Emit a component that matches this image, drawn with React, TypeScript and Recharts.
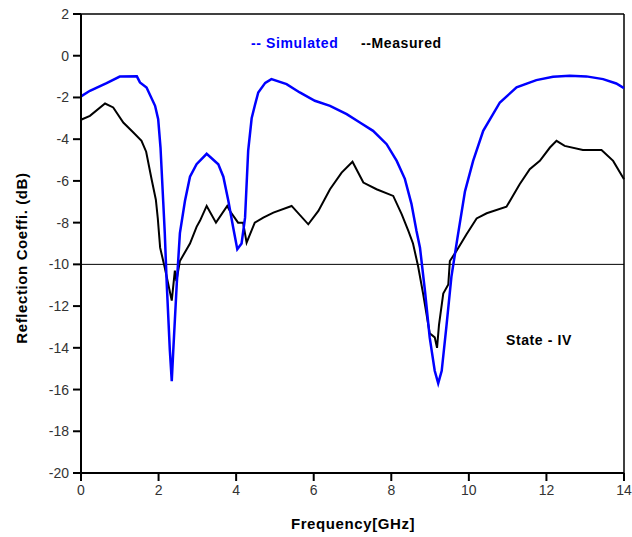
import React from 'react';
import {
  LineChart,
  Line,
  XAxis,
  YAxis,
  ReferenceLine,
  Customized,
} from 'recharts';

// Simulated reflection coefficient (frequency in GHz, value in dB)
const simFreq = [0, 0.23, 0.66, 1.0, 1.44, 1.52, 1.69, 1.91, 1.99, 2.05, 2.12, 2.16, 2.21, 2.29, 2.34, 2.38, 2.47, 2.55, 2.68, 2.81, 2.98, 3.24, 3.54, 3.67, 3.8, 3.92, 4.03, 4.14, 4.23, 4.31, 4.4, 4.48, 4.57, 4.75, 4.91, 5.3, 5.64, 6.03, 6.42, 6.85, 7.19, 7.53, 7.88, 8.14, 8.35, 8.52, 8.65, 8.74, 8.87, 8.99, 9.12, 9.21, 9.3, 9.42, 9.55, 9.7, 9.9, 10.11, 10.37, 10.8, 11.23, 11.74, 12.17, 12.6, 13.03, 13.46, 13.8, 14];
const simDb = [-1.95, -1.68, -1.31, -1.0, -0.99, -1.28, -1.52, -2.4, -3.04, -4.4, -7.0, -8.5, -10.9, -14.1, -15.6, -14.1, -10.9, -8.5, -6.96, -5.8, -5.2, -4.7, -5.2, -5.8, -6.96, -8.2, -9.27, -9.0, -7.76, -4.56, -3.0, -2.4, -1.76, -1.3, -1.12, -1.36, -1.76, -2.16, -2.4, -2.8, -3.2, -3.6, -4.24, -5.04, -5.9, -7.1, -8.4, -9.2, -11.3, -13.5, -15.1, -15.7, -15.1, -13.0, -10.6, -8.8, -6.5, -5.04, -3.6, -2.24, -1.52, -1.17, -1.01, -0.96, -0.99, -1.12, -1.33, -1.55];

// Measured reflection coefficient
const measFreq = [0, 0.23, 0.62, 0.83, 1.09, 1.35, 1.56, 1.68, 1.82, 1.93, 1.98, 2.04, 2.16, 2.29, 2.34, 2.42, 2.46, 2.55, 2.81, 2.98, 3.07, 3.24, 3.48, 3.77, 3.84, 4.05, 4.18, 4.27, 4.48, 4.7, 4.96, 5.43, 5.86, 6.12, 6.42, 6.72, 7.0, 7.28, 7.62, 8.05, 8.27, 8.44, 8.56, 8.69, 8.82, 8.99, 9.12, 9.18, 9.23, 9.34, 9.47, 9.51, 9.68, 9.94, 10.2, 10.46, 10.97, 11.31, 11.57, 11.83, 12.09, 12.26, 12.47, 12.94, 13.42, 13.72, 14];
const measDb = [-3.07, -2.88, -2.29, -2.48, -3.2, -3.68, -4.08, -4.6, -5.92, -6.9, -7.8, -9.2, -10.16, -11.3, -11.74, -10.3, -10.8, -9.84, -9.0, -8.2, -7.9, -7.2, -8.0, -7.2, -7.44, -8.0, -8.0, -8.96, -8.0, -7.76, -7.52, -7.2, -8.08, -7.44, -6.4, -5.6, -5.08, -6.08, -6.4, -6.72, -7.6, -8.4, -9.0, -10.08, -11.4, -13.3, -13.5, -14.0, -12.9, -11.4, -10.96, -9.84, -9.36, -8.56, -7.8, -7.55, -7.24, -6.16, -5.44, -5.04, -4.4, -4.08, -4.32, -4.52, -4.52, -5.04, -5.92];

const xTicks = [0, 2, 4, 6, 8, 10, 12, 14];
const yTicks = [-20, -18, -16, -14, -12, -10, -8, -6, -4, -2, 0, 2];

const simulated = simFreq.map((f, i) => ({ f, db: simDb[i] }));
const measured = measFreq.map((f, i) => ({ f, db: measDb[i] }));

const tickFont = {
  fontFamily: '"Liberation Sans Narrow", "Liberation Sans", Arial, sans-serif',
  fontSize: 14,
  fill: '#333',
};

const boldFont = 'Arial, "Liberation Sans", sans-serif';

const Annotations = () => (
  <g fontFamily={boldFont} fontWeight="bold" fontSize={14} letterSpacing={0.6}>
    <text x={251} y={48} fill="#0000ff">-- Simulated</text>
    <text x={361} y={48} fill="#000">--Measured</text>
    <text x={506} y={345} fill="#000">State - IV</text>
    <text x={353} y={529} fill="#000" textAnchor="middle" fontSize={15}>Frequency[GHz]</text>
    <text
      x={27}
      y={258}
      fill="#000"
      textAnchor="middle"
      fontSize={15}
      transform="rotate(-90 27 258)"
    >
      Reflection Coeffi. (dB)
    </text>
  </g>
);

export default function App() {
  return (
    <div style={{ position: 'absolute', left: 0, top: 0, background: '#fff' }}>
      <LineChart
        width={632}
        height={537}
        margin={{ top: 14, right: 8, left: 0, bottom: 0 }}
      >
        <XAxis
          type="number"
          dataKey="f"
          domain={[0, 14]}
          ticks={xTicks}
          allowDuplicatedCategory={false}
          height={64}
          stroke="#000"
          axisLine={{ stroke: '#000', strokeWidth: 2 }}
          tickLine={{ stroke: '#000', strokeWidth: 2 }}
          tickSize={8}
          tick={tickFont}
          tickMargin={4}
        />
        <YAxis
          type="number"
          dataKey="db"
          domain={[-20, 2]}
          ticks={yTicks}
          width={81}
          stroke="#000"
          axisLine={{ stroke: '#000', strokeWidth: 2 }}
          tickLine={{ stroke: '#000', strokeWidth: 2 }}
          tickSize={8}
          tick={tickFont}
          tickMargin={4}
        />
        <ReferenceLine y={2} stroke="#000" strokeWidth={1.5} />
        <ReferenceLine x={14} stroke="#000" strokeWidth={1.5} />
        <ReferenceLine y={-10} stroke="#000" strokeWidth={1} />
        <Line
          data={measured}
          dataKey="db"
          type="linear"
          stroke="#000"
          strokeWidth={2}
          dot={false}
          isAnimationActive={false}
        />
        <Line
          data={simulated}
          dataKey="db"
          type="linear"
          stroke="#0000ff"
          strokeWidth={2.5}
          dot={false}
          isAnimationActive={false}
        />
        <Customized component={Annotations} />
      </LineChart>
    </div>
  );
}
